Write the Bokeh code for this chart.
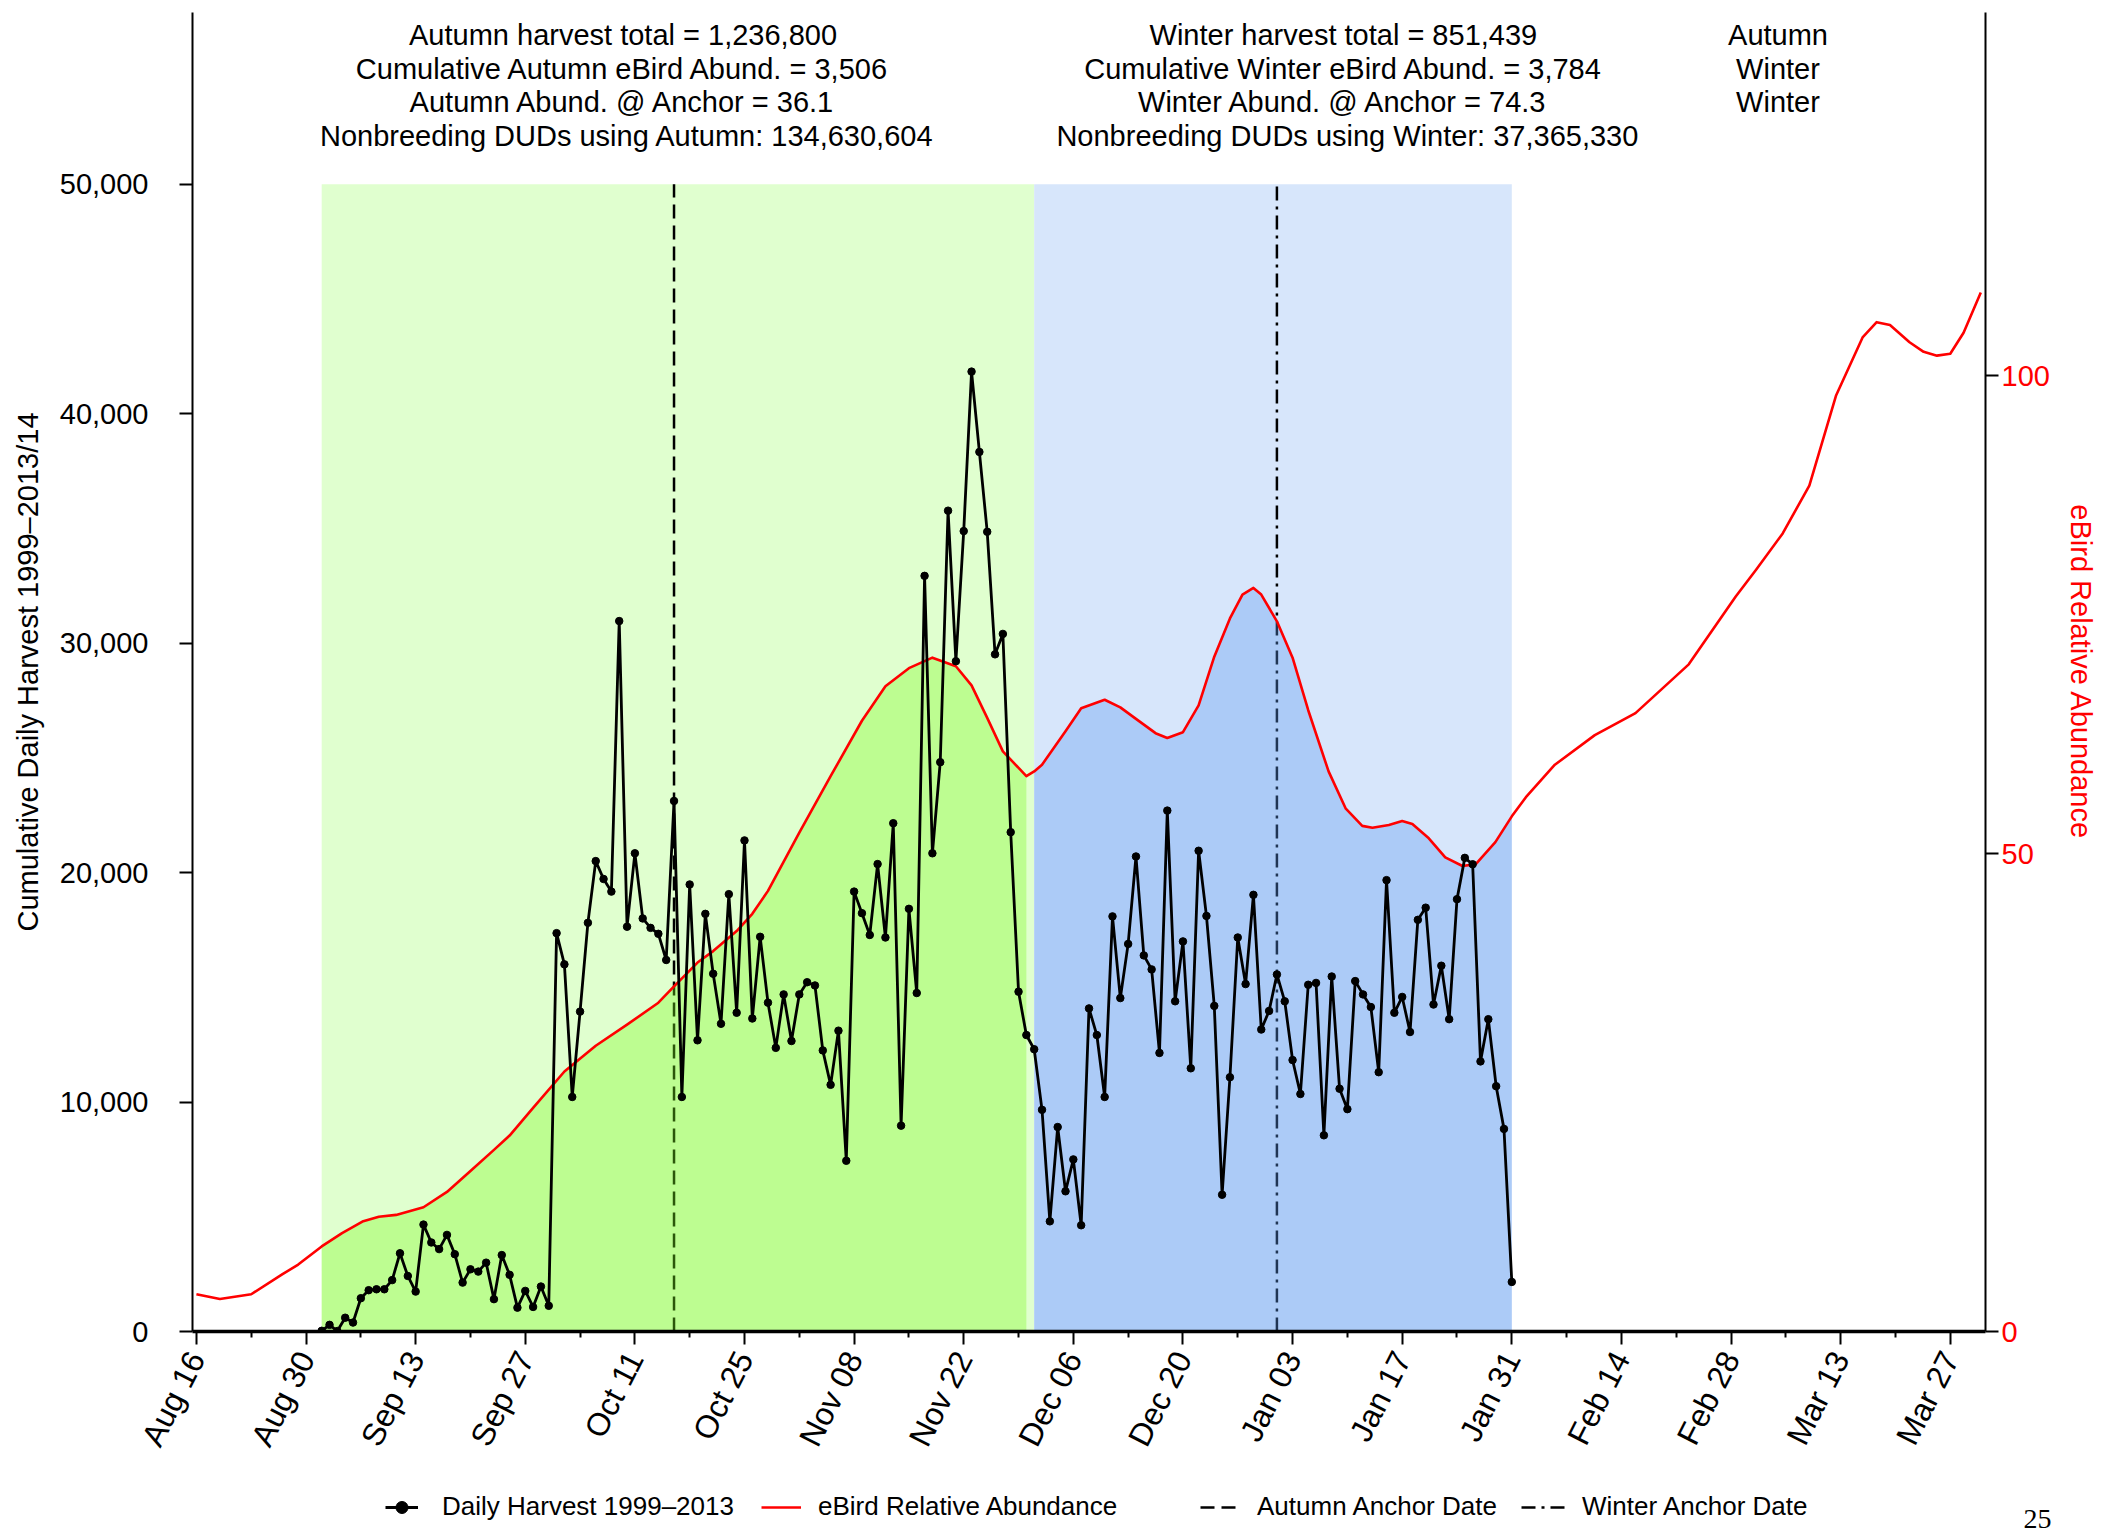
import math
from bokeh.plotting import figure
from bokeh.layouts import column
from bokeh.models import (Range1d, LinearAxis, FixedTicker, NumeralTickFormatter,
                          Legend, LegendItem)
from bokeh.core.properties import value
from bokeh.embed import file_html
from bokeh.resources import INLINE

# ---------------- data ----------------
# day index: 0 = Aug 16
harvest_day = list(range(16, 169))
harvest = [
    30, 290, 20, 600, 390, 1450, 1800, 1840, 1840, 2240,
    3410, 2420, 1740, 4660, 3880, 3590, 4210, 3370, 2130, 2710,
    2610, 3000, 1410, 3330, 2470, 1040, 1770, 1070, 1960, 1120,
    17360, 16000, 10220, 13940, 17810, 20500, 19720, 19170, 30960, 17640,
    20840, 18000, 17590, 17330, 16190, 23120, 10220, 19480, 12690, 18200,
    15590, 13410, 19060, 13890, 21400, 13640, 17200, 14330, 12360, 14690,
    12660, 14690, 15220, 15080, 12250, 10750, 13110, 7440, 19170, 18230,
    17280, 20370, 17170, 22150, 8970, 18420, 14750, 32930, 20840, 24810,
    35770, 29210, 34880, 41830, 38330, 34850, 29510, 30400, 21760, 14810,
    12920, 12300, 9660, 4800, 8910, 6110, 7500, 4630, 14080, 12920,
    10220, 18090, 14530, 16890, 20700, 16390, 15780, 12140, 22700, 14390,
    17000, 11470, 20950, 18110, 14190, 5960, 11080, 17170, 15140, 19030,
    13160, 13970, 15560, 14390, 11830, 10350, 15110, 15190, 8550, 15470,
    10580, 9690, 15270, 14690, 14140, 11300, 19670, 13890, 14580, 13050,
    17940, 18470, 14250, 15940, 13610, 18840, 20640, 20360, 11770, 13610,
    10690, 8830, 2160,
]

ebird_day = [0, 3, 7, 11, 13, 16, 18.6, 21.2, 23.3, 25.5, 29, 32, 35, 38, 40, 43,
             47, 51, 55, 59, 61, 64, 66, 69, 71, 73, 77, 81, 85, 88, 91, 94, 97,
             99, 101, 103, 106, 107, 108, 111, 113, 116, 118, 120, 122.5, 124, 126,
             128, 130, 132, 133.6, 135, 136, 138, 140, 142, 144.6, 146.8, 148.9,
             150.2, 152.3, 154, 155.3, 157.4, 159.5, 161.7, 163.4, 165.9, 168,
             169.8, 173.5, 178.6, 183.8, 190.6, 196.6, 199.2, 202.6, 206, 209.4,
             212.8, 214.6, 216.3, 218.8, 220.6, 222.3, 224, 225.7, 227.9]
ebird = [3.9, 3.4, 3.9, 6.0, 7.0, 8.9, 10.3, 11.5, 12.0, 12.2, 13.0, 14.6, 16.8,
         19.0, 20.5, 23.4, 27.2, 29.9, 32.1, 34.4, 36.1, 38.6, 39.8, 41.9, 43.7,
         46.1, 52.2, 58.1, 63.9, 67.5, 69.4, 70.5, 69.6, 67.6, 64.2, 60.7, 58.1,
         58.6, 59.3, 62.8, 65.2, 66.1, 65.3, 64.1, 62.6, 62.1, 62.7, 65.5, 70.6,
         74.6, 77.1, 77.8, 77.1, 74.3, 70.5, 65.0, 58.6, 54.7, 52.9, 52.7, 53.0,
         53.4, 53.1, 51.6, 49.6, 48.7, 48.9, 51.2, 53.9, 55.9, 59.3,
         62.4, 64.7, 69.8, 76.9, 79.7, 83.5, 88.5, 97.9, 104.0, 105.6,
         105.3, 103.5, 102.5, 102.1, 102.3, 104.5, 108.7]

tick_days = [0, 14, 28, 42, 56, 70, 84, 98, 112, 126, 140, 154, 168, 182, 196, 210, 224]
tick_labels = ["Aug 16", "Aug 30", "Sep 13", "Sep 27", "Oct 11", "Oct 25", "Nov 08",
               "Nov 22", "Dec 06", "Dec 20", "Jan 03", "Jan 17", "Jan 31", "Feb 14",
               "Feb 28", "Mar 13", "Mar 27"]
minor_days = [7, 21, 35, 49, 63, 77, 91, 105, 119, 133, 147, 161, 175, 189, 203, 217]
harvest_ticks = [0, 10000, 20000, 30000, 40000, 50000]
ebird_ticks = [0, 50, 100]

autumn_start, autumn_end = 16, 106
winter_start, winter_end = 107, 168
autumn_anchor, winter_anchor = 61, 138
band_top = 50000

autumn_lines = ["Autumn harvest total =  1,236,800",
                "Cumulative Autumn eBird Abund. =  3,506",
                "Autumn Abund. @ Anchor =  36.1",
                "Nonbreeding DUDs using Autumn: 134,630,604"]
winter_lines = ["Winter harvest total =  851,439",
                "Cumulative Winter eBird Abund. =  3,784",
                "Winter Abund. @ Anchor =  74.3",
                "Nonbreeding DUDs using Winter: 37,365,330"]
season_lines = ["Autumn", "Winter", "Winter"]

legend_labels = ["Daily Harvest 1999\u20132013", "eBird Relative Abundance",
                 "Autumn Anchor Date", "Winter Anchor Date"]
page_number = "25"

# ---------------- styling ----------------
FONT = "Liberation Sans"
FS = "29px"
LIGHT_GREEN = "#E0FFCF"
LIGHT_BLUE = "#D7E6FB"
FILL_GREEN = "#7CF91E"
FILL_BLUE = "#5C99F2"
RED = "#FF0000"
AUT_DASH = "14 7"
WIN_DASH = "14 6 3 6"

W = 2100
p = figure(width=W, height=1484, output_backend="svg", toolbar_location=None,
           x_range=Range1d(-0.5, 228.5), y_range=Range1d(0, 57480),
           min_border_left=192, min_border_right=115, min_border_top=12,
           min_border_bottom=153)
p.extra_y_ranges = {"eb": Range1d(0, 138.0)}
p.outline_line_color = None
p.xgrid.visible = False
p.ygrid.visible = False

# season bands
p.quad(left=[autumn_start], right=[winter_start], bottom=[0], top=[band_top],
       fill_color=LIGHT_GREEN, line_color=None)
p.quad(left=[winter_start], right=[winter_end], bottom=[0], top=[band_top],
       fill_color=LIGHT_BLUE, line_color=None)

# anchor lines
p.segment(x0=[autumn_anchor], y0=[0], x1=[autumn_anchor], y1=[band_top],
          line_color="black", line_width=2.5, line_dash=AUT_DASH)
p.segment(x0=[winter_anchor], y0=[0], x1=[winter_anchor], y1=[band_top],
          line_color="black", line_width=2.5, line_dash=WIN_DASH)

# fill under eBird curve
a_x = [d for d in ebird_day if autumn_start <= d <= autumn_end]
a_y = [v for d, v in zip(ebird_day, ebird) if autumn_start <= d <= autumn_end]
w_x = [d for d in ebird_day if winter_start <= d <= winter_end]
w_y = [v for d, v in zip(ebird_day, ebird) if winter_start <= d <= winter_end]
p.varea(x=a_x, y1=[0] * len(a_x), y2=a_y, fill_color=FILL_GREEN, fill_alpha=0.35,
        y_range_name="eb")
p.varea(x=w_x, y1=[0] * len(w_x), y2=w_y, fill_color=FILL_BLUE, fill_alpha=0.35,
        y_range_name="eb")

# eBird curve
p.line(ebird_day, ebird, line_color=RED, line_width=2.6, y_range_name="eb",
       line_join="round")

# harvest
p.line(harvest_day, harvest, line_color="black", line_width=2.8)
p.scatter(harvest_day, harvest, size=7.5, fill_color="black", line_color="black")

# axes
xa = p.xaxis[0]
xa.ticker = FixedTicker(ticks=tick_days, minor_ticks=minor_days)
xa.major_label_overrides = {d: l for d, l in zip(tick_days, tick_labels)}
xa.major_label_orientation = math.radians(63)
xa.major_label_text_font = FONT
xa.major_label_text_font_size = "32px"
xa.major_label_text_color = "black"
xa.major_label_standoff = 9
xa.major_tick_out = 13
xa.major_tick_in = 0
xa.minor_tick_out = 6
xa.minor_tick_in = 0
xa.major_tick_line_width = 2
xa.minor_tick_line_width = 2
xa.axis_line_width = 3.5

ya = p.yaxis[0]
ya.ticker = FixedTicker(ticks=harvest_ticks)
ya.formatter = NumeralTickFormatter(format="0,0")
ya.axis_label = "Cumulative Daily Harvest 1999\u20132013/14"
ya.axis_label_text_font = FONT
ya.axis_label_text_font_size = FS
ya.axis_label_text_font_style = "normal"
ya.axis_label_text_color = "black"
ya.axis_label_standoff = 13
ya.major_label_text_font = FONT
ya.major_label_text_font_size = FS
ya.major_label_text_color = "black"
ya.major_label_standoff = 31
ya.major_tick_out = 13
ya.major_tick_in = 0
ya.major_tick_line_width = 2
ya.minor_tick_line_color = None
ya.axis_line_width = 2

ra = LinearAxis(y_range_name="eb", ticker=FixedTicker(ticks=ebird_ticks))
ra.axis_label = "eBird Relative Abundance"
ra.axis_label_text_color = RED
ra.axis_label_text_font = FONT
ra.axis_label_text_font_size = FS
ra.axis_label_text_font_style = "normal"
ra.axis_label_standoff = 12
ra.major_label_text_color = RED
ra.major_label_text_font = FONT
ra.major_label_text_font_size = FS
ra.major_label_standoff = 3
ra.major_tick_out = 13
ra.major_tick_in = 0
ra.major_tick_line_width = 2
ra.minor_tick_line_color = None
ra.axis_line_width = 2
p.add_layout(ra, "right")

# header texts
line_y = [56500, 55020, 53580, 52100]
col_x = [55, 147, 202]
for cx, lines in zip(col_x, [autumn_lines, winter_lines, season_lines]):
    p.text(x=[cx] * len(lines), y=line_y[:len(lines)], text=lines,
           text_align="center", text_baseline="middle",
           text_font=value(FONT), text_font_size=FS, text_color="black")

# ---------------- legend strip (separate figure below) ----------------
# its frame is aligned with the main frame (x 192..1985 on the page)
LH = 48
FRAME_W = 1793
pl = figure(width=W, height=LH, output_backend="svg", toolbar_location=None,
            x_range=Range1d(0, FRAME_W), y_range=Range1d(0, LH),
            x_axis_type=None, y_axis_type=None,
            min_border_left=0, min_border_right=0, min_border_top=0,
            min_border_bottom=0)
pl.outline_line_color = None
pl.grid.visible = False

off = [-1000, -999]  # legend-only renderers, kept outside the visible range
g_hl = pl.line(off, off, line_color="black", line_width=2.8)
g_hs = pl.scatter(off, off, size=7.5, fill_color="black", line_color="black")
g_eb = pl.line(off, off, line_color=RED, line_width=2.6)
g_au = pl.line(off, off, line_color="black", line_width=2.5, line_dash=AUT_DASH)
g_wi = pl.line(off, off, line_color="black", line_width=2.5, line_dash=WIN_DASH)

leg_x = [193, 569, 1008, 1329]
leg_gw = [33, 40, 40, 45]
leg_so = [24, 17, 17, 16]
leg_r = [[g_hl, g_hs], [g_eb], [g_au], [g_wi]]
for lx, gw, so, lab, rs in zip(leg_x, leg_gw, leg_so, legend_labels, leg_r):
    lg = Legend(items=[LegendItem(label=lab, renderers=rs)], location=(lx, 10),
                orientation="horizontal", padding=0, margin=0, spacing=0,
                glyph_width=gw, glyph_height=30, label_standoff=so,
                label_text_font=FONT, label_text_font_size="26px",
                label_text_color="black",
                border_line_alpha=0, background_fill_alpha=0)
    pl.add_layout(lg, "center")

# page number: a single labelled tick on a bare axis in the right border
pn = LinearAxis(ticker=FixedTicker(ticks=[14]), major_label_overrides={14: page_number},
                axis_line_color=None, major_tick_line_color=None,
                minor_tick_line_color=None, major_tick_in=0, major_tick_out=0,
                minor_tick_in=0, minor_tick_out=0, major_label_standoff=38,
                major_label_text_font="Liberation Serif",
                major_label_text_font_size="28px", major_label_text_color="black")
pl.add_layout(pn, "right")

layout = column(p, pl, spacing=0)
open("out.html", "w").write(file_html(layout, INLINE))
